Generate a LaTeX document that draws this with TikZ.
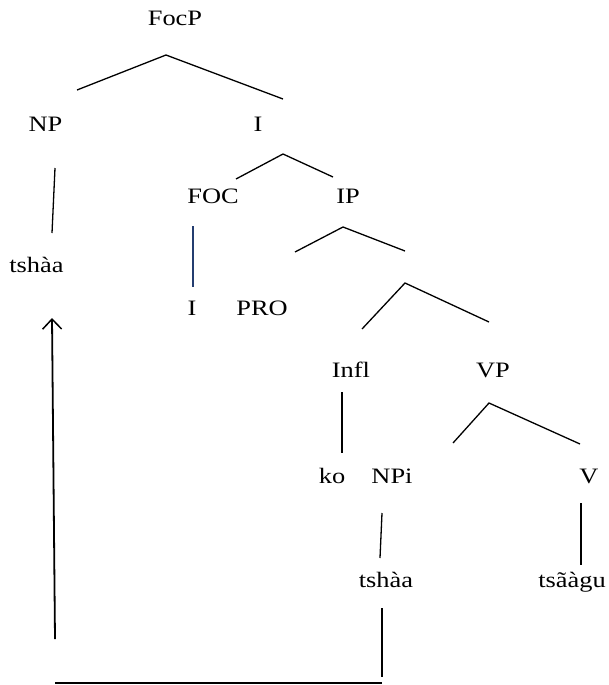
\documentclass[tikz,border=0pt]{standalone}
\usepackage{fontspec}
\setmainfont{Liberation Serif}[FakeStretch=1.2]
\usetikzlibrary{arrows.meta}
\definecolor{navyline}{rgb}{0.14,0.24,0.44}
\definecolor{baseline}{gray}{0.55}
\begin{document}
\begin{tikzpicture}[x=1pt,y=-1pt,
  lbl/.style={anchor=base,inner sep=0pt,font=\fontsize{22}{26}\selectfont},
  branch/.style={line width=1.3pt,line join=miter},
  stem/.style={line width=1.3pt},
  heavystem/.style={line width=2pt},
  movearrow/.style={line width=1.8pt,-{Straight Barb[length=10pt,width=19pt,line width=1.5pt]}}]
\useasboundingbox (0,0) rectangle (609,685);

% labels
\node[lbl] (focp) at (175,26) {FocP};
\node[lbl] (np)   at (45.5,131) {NP};
\node[lbl] (ibar) at (258,131) {I};
\node[lbl] (tshaL) at (36.5,272) {tshàa};
\node[lbl] (foc)  at (213,203) {FOC};
\node[lbl] (ip)   at (348,203) {IP};
\node[lbl] (ihead) at (192,315) {I};
\node[lbl] (pro)  at (262,315) {PRO};
\node[lbl] (infl) at (351,377) {Infl};
\node[lbl] (vp)   at (493,377) {VP};
\node[lbl] (ko)   at (332,483) {ko};
\node[lbl] (npi)  at (392,483) {NPi};
\node[lbl] (v)    at (589,483) {V};
\node[lbl] (tshaR) at (386,587) {tshàa};
\node[lbl] (tsaagu) at (572,587) {tsãàgu};

% branching points
\coordinate (focpL) at (77,90);   \coordinate (focpT) at (166,55);  \coordinate (focpR) at (283,99);
\coordinate (ibarL) at (236,179); \coordinate (ibarT) at (283,154); \coordinate (ibarR) at (333,177);
\coordinate (ipL) at (295,252);   \coordinate (ipT) at (343,227);   \coordinate (ipR) at (405,251);
\coordinate (ilL) at (362,329);   \coordinate (ilT) at (405,283);   \coordinate (ilR) at (489,322);
\coordinate (vpL) at (453,443);   \coordinate (vpT) at (489,403);   \coordinate (vpR) at (580,444);

\draw[branch] (focpL) -- (focpT) -- (focpR);
\draw[branch] (ibarL) -- (ibarT) -- (ibarR);
\draw[branch] (ipL) -- (ipT) -- (ipR);
\draw[branch] (ilL) -- (ilT) -- (ilR);
\draw[branch] (vpL) -- (vpT) -- (vpR);

% unary stems
\coordinate (npA) at (55,168);   \coordinate (npB) at (52,233);
\coordinate (focA) at (193,226); \coordinate (focB) at (193,287);
\coordinate (inflA) at (342,392); \coordinate (inflB) at (342,453);
\coordinate (npiA) at (382,513); \coordinate (npiB) at (380,558);
\coordinate (vA) at (581,503);   \coordinate (vB) at (581,565);
\coordinate (trA) at (382,608);  \coordinate (trB) at (382,677);

\draw[stem] (npA) -- (npB);
\draw[line width=1.3pt,navyline] (focA) -- (focB);
\draw[heavystem] (inflA) -- (inflB);
\draw[stem] (npiA) -- (npiB);
\draw[heavystem] (vA) -- (vB);
\draw[heavystem] (trA) -- (trB);

% movement path
\coordinate (mvStart) at (55,639);
\coordinate (mvEnd) at (52,318);
\coordinate (lineL) at (55,683);
\coordinate (lineR) at (382,683);
\draw[movearrow] (mvStart) -- (mvEnd);
\draw[line width=1.2pt,baseline] (lineL) -- (lineR);
\end{tikzpicture}
\end{document}
